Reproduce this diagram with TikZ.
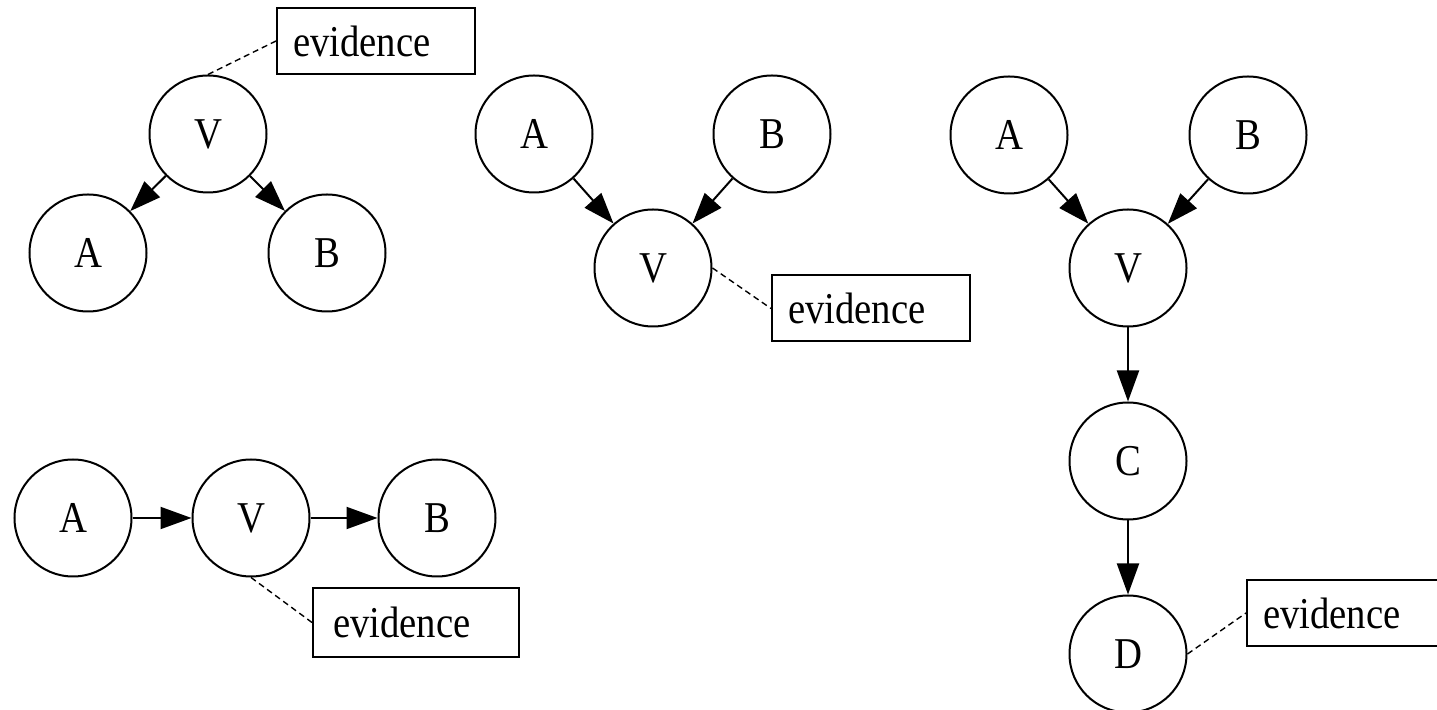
\documentclass[tikz,border=0pt]{standalone}
\usepackage{fontspec}
\setmainfont{Liberation Serif}[FakeStretch=0.88]
\usetikzlibrary{arrows.meta}
\begin{document}
\begin{tikzpicture}[x=0.5pt,y=-0.5pt,
  every node/.style={font=\fontsize{22}{26}\selectfont},
  var/.style={circle,draw,line width=1pt,minimum size=58.5pt,inner sep=0pt},
  evbox/.style={rectangle,draw,line width=1pt,minimum width=99pt,minimum height=33pt,
    inner xsep=8pt,inner ysep=0pt,text width=83pt,align=left},
  edge/.style={line width=1pt,-{Triangle[length=15.5pt,width=11pt]}},
  evline/.style={line width=0.7pt,dash pattern=on 3pt off 2pt}]
\clip (0,0) rectangle (1437,710);
\fill[white] (0,0) rectangle (1437,710);
% group 1
\node[var] (v1) at (208,134) {V};
\node[var] (a1) at (88,253) {A};
\node[var] (b1) at (327,253) {B};
\node[evbox] (e1) at (376,41) {evidence};
\draw[edge] (v1) -- (a1);
\draw[edge] (v1) -- (b1);
\draw[evline] (v1.north) -- (e1.west);
% group 2
\node[var] (a2) at (534,134) {A};
\node[var] (b2) at (772,134) {B};
\node[var] (v2) at (653,268) {V};
\node[evbox] (e2) at (871,308.5) {evidence};
\draw[edge] (a2) -- (v2);
\draw[edge] (b2) -- (v2);
\draw[evline] (v2.east) -- (e2.west);
% group 3
\node[var] (a3) at (1009,135) {A};
\node[var] (b3) at (1248,135) {B};
\node[var] (v3) at (1128,268) {V};
\node[var] (c3) at (1128,461) {C};
\node[var] (d3) at (1128,654) {D};
\node[evbox] (e3) at (1346,613) {evidence};
\draw[edge] (a3) -- (v3);
\draw[edge] (b3) -- (v3);
\draw[edge] (v3) -- (c3);
\draw[edge] (c3) -- (d3);
\draw[evline] (d3.east) -- (e3.west);
% group 4
\node[var] (a4) at (73,518) {A};
\node[var] (v4) at (251,518) {V};
\node[var] (b4) at (437,518) {B};
\node[evbox,minimum width=103pt,minimum height=34.5pt] (e4) at (416,622.5) {evidence};
\draw[edge] (a4) -- (v4);
\draw[edge] (v4) -- (b4);
\draw[evline] (v4.south) -- (e4.west);
\end{tikzpicture}
\end{document}
